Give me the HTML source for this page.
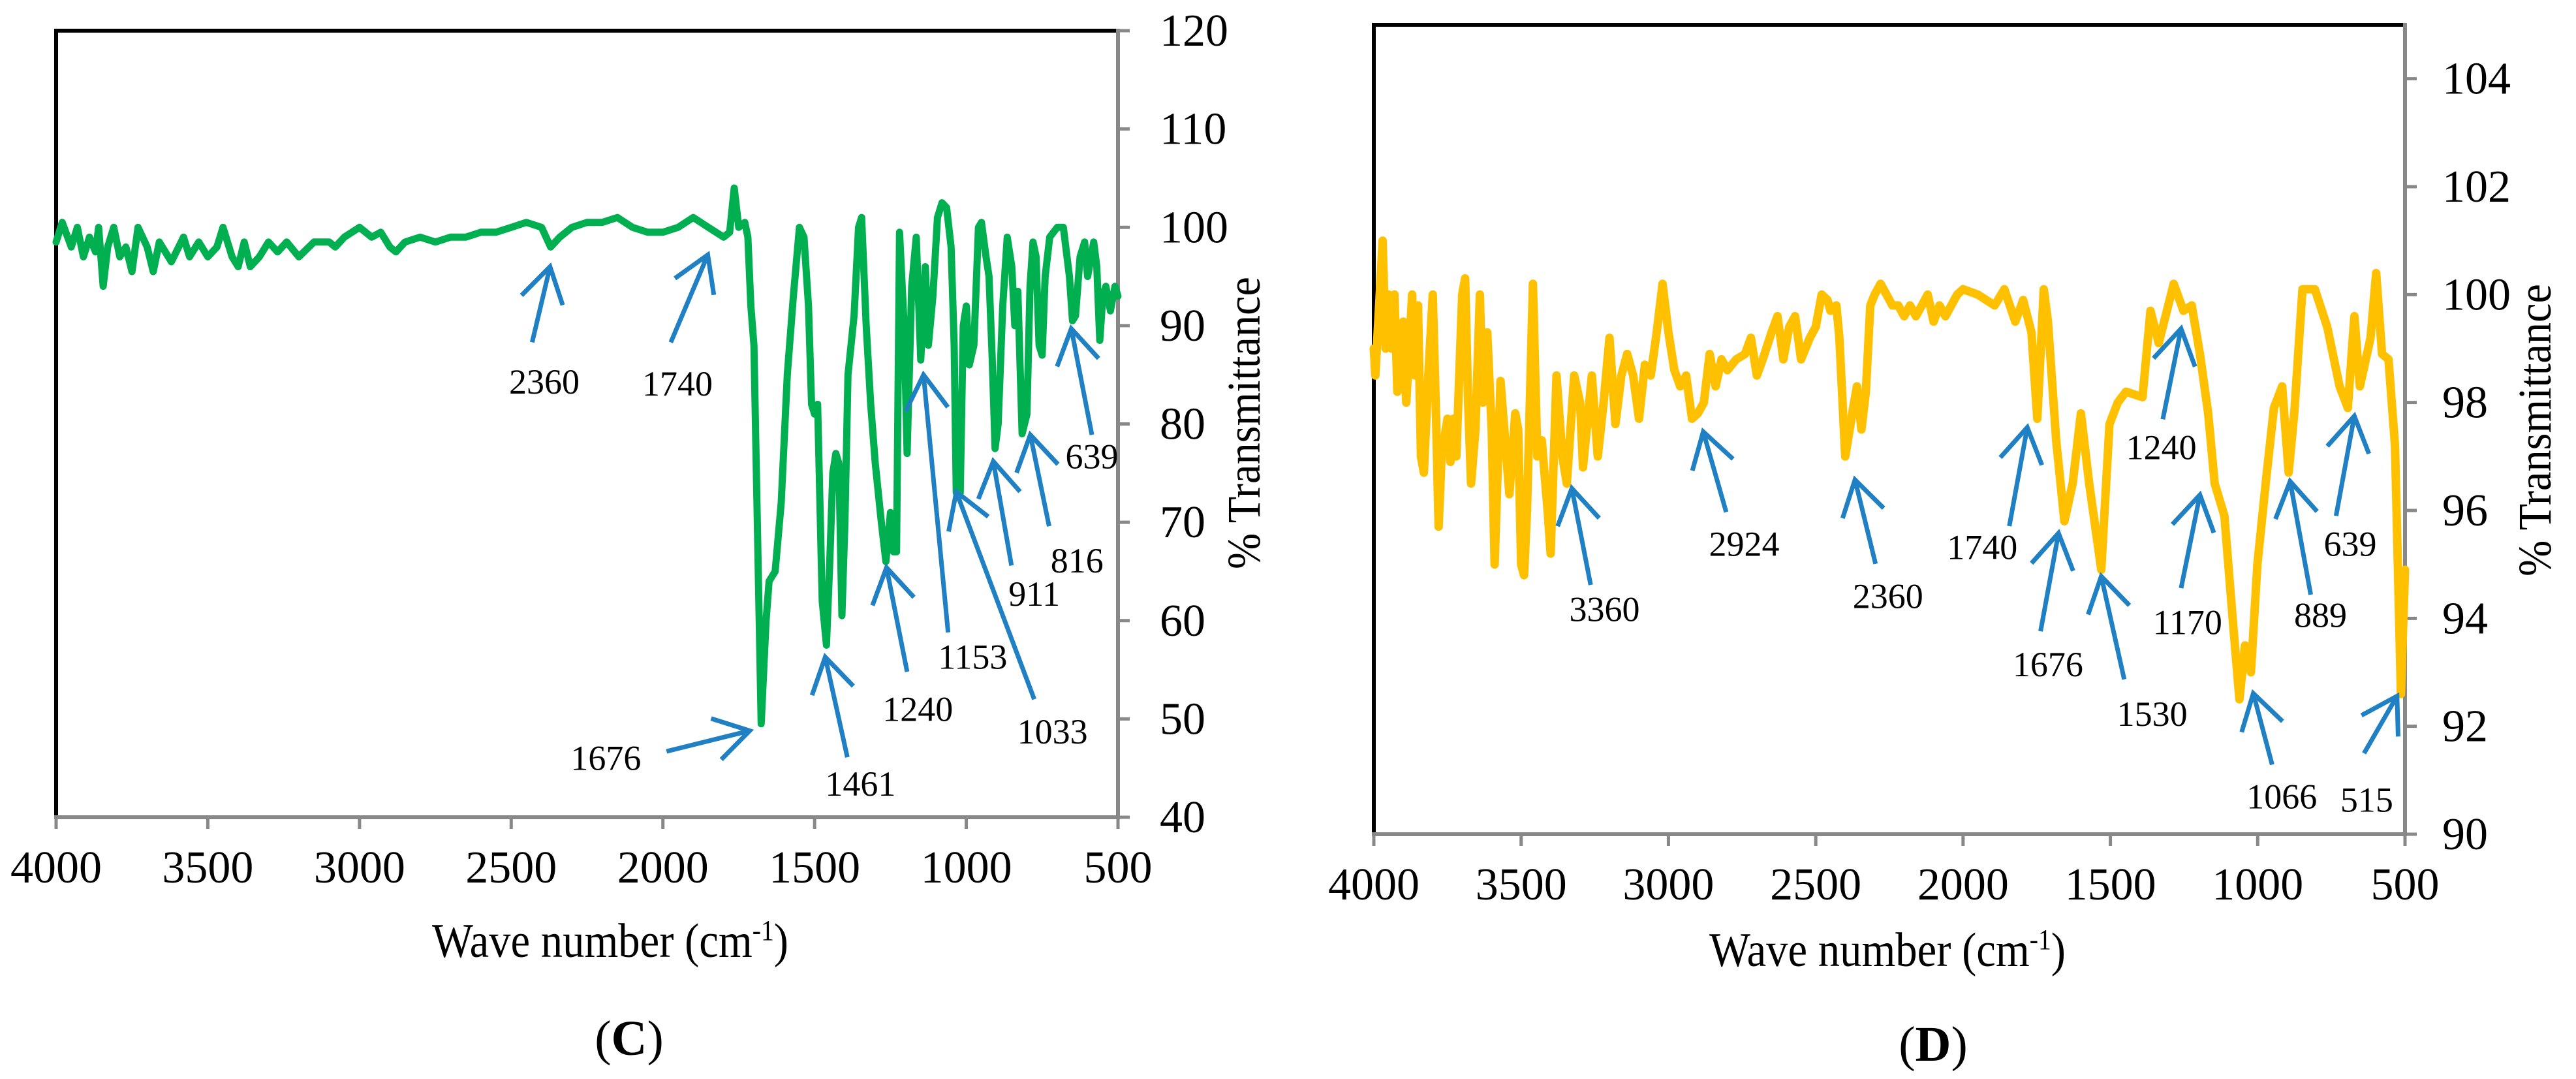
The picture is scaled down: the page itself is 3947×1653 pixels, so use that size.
<!DOCTYPE html>
<html><head><meta charset="utf-8"><style>
html,body{margin:0;padding:0;background:#fff;}
svg{display:block;}
svg text{font-family:"Liberation Serif","Times New Roman",serif;}
</style></head>
<body>
<svg id="fig" width="3947" height="1653" viewBox="0 0 3947 1653" xmlns="http://www.w3.org/2000/svg">
<rect width="3947" height="1653" fill="#fff"/>
<g id="chartC"></g>
<g id="chartD"></g>
</svg>
<script>
// ---- Chart C data ----
const cWave = [4000,3980,3950,3930,3910,3890,3870,3860,3845,3830,3810,3790,3770,3750,3730,3700,3680,3660,3640,3620,3580,3560,3530,3500,3470,3450,3420,3400,3380,3360,3330,3300,3270,3240,3200,3150,3100,3080,3050,3000,2960,2930,2900,2880,2850,2800,2750,2700,2650,2600,2550,2500,2450,2400,2370,2340,2300,2250,2200,2150,2100,2050,2000,1950,1900,1850,1800,1780,1765,1750,1730,1720,1710,1700,1690,1676,1660,1650,1630,1610,1590,1570,1550,1535,1520,1510,1500,1490,1475,1461,1450,1440,1430,1420,1410,1400,1390,1370,1355,1345,1330,1315,1300,1280,1265,1250,1240,1230,1220,1205,1195,1180,1165,1150,1135,1125,1110,1095,1080,1065,1050,1040,1033,1020,1010,1000,990,975,960,950,935,925,915,905,895,880,865,850,840,830,816,800,790,780,770,760,750,740,725,700,680,660,650,640,625,610,600,580,570,560,550,540,525,510,500];
const cTrans = [98.5,100.5,98,100,97,99,97.5,100,94,98,100,97,98,95.5,100,98,95.5,98.5,97.5,96.5,99,97,98.5,97,98,100,97,96,98.5,96,97,98.5,97.5,98.5,97,98.5,98.5,98,99,100,99,99.5,98,97.5,98.5,99,98.5,99,99,99.5,99.5,100,100.5,100,98,99,100,100.5,100.5,101,100,99.5,99.5,100,101,100,99,99.5,104,100,100.5,99,92,88,72,49.5,60,64,65,72,85,93,100,99,92,82,81,82,62,57.5,66,75,77,76,60.5,70,85,91,100,101,90,82,76,70,66,71,67,67,99.5,90,77,94,99,86.5,96,88,93,101,102.5,102,98,88,73,73,90,92,86,88,100,100.5,97,95,87,77.5,80,92,99,96,90,93.5,79,81,94,98.5,97,88,87,95,99,100,100,95,90.5,91,97,98.5,95,98.5,96,88.5,93,94,91.5,94,93];
const cXTicks = [4000,3500,3000,2500,2000,1500,1000,500];
const cYTicks = [40,50,60,70,80,90,100,110,120];
const cPeakLabels = ["2360","1740","1676","1461","1240","1153","1033","911","816","639"];
const cTipWave = [2372,1852,1714,1465,1263,1141,1033,911,789,654];
const cTipTrans = [96.0,97.2,48.8,56.3,65.4,85.0,73.1,76.2,78.9,89.7];
const cTailWave = [2431,1974,1988,1392,1195,1060,776,851,727,586];
const cTailTrans = [88.3,88.3,46.7,46.1,54.8,58.8,52.0,65.6,69.6,78.9];
const cLabelWave = [2391,1952,2188,1349,1160,979,716,776,635,586];
const cLabelTrans = [83.1,82.9,44.8,42.2,49.8,55.1,47.5,61.5,64.9,75.5];

// ---- Chart D data ----
const dWave = [4000,3995,3985,3970,3960,3950,3940,3930,3920,3900,3890,3870,3860,3850,3840,3830,3815,3800,3790,3780,3770,3750,3740,3730,3720,3700,3690,3680,3670,3655,3640,3630,3615,3600,3590,3570,3550,3540,3520,3510,3500,3490,3480,3460,3445,3430,3410,3400,3380,3360,3345,3320,3300,3290,3260,3240,3220,3200,3180,3160,3140,3120,3100,3080,3060,3040,3020,3000,2980,2960,2940,2920,2900,2880,2860,2840,2820,2800,2770,2740,2720,2700,2680,2650,2630,2610,2590,2570,2550,2520,2500,2480,2460,2450,2430,2420,2400,2385,2370,2360,2345,2330,2315,2300,2280,2260,2240,2220,2200,2180,2160,2140,2120,2100,2080,2060,2040,2020,2000,1950,1893,1860,1823,1796,1768,1748,1726,1712,1684,1656,1628,1600,1572,1531,1503,1475,1447,1391,1364,1336,1285,1252,1224,1196,1168,1146,1113,1085,1062,1043,1023,1001,973,945,917,895,876,848,806,764,722,694,672,653,617,598,578,556,534,514,500];
const dTrans = [99,98.5,99.5,101,99,100,99,100,98.2,99.5,98,100,98.5,99.8,97,96.7,98.5,100,98,95.7,97,97.7,96.9,97.7,97,100,100.3,98,96.5,97.5,100,98,99.3,97.5,95,98.4,97,96.3,97.8,97.5,95,94.8,96,100.2,97,97.3,96,95.2,98.5,97,96.5,98.5,98,96.8,98.5,97,98,99.2,97.6,98.5,98.9,98.5,97.7,98.7,98.5,99.3,100.2,99.3,98.6,98.3,98.5,97.7,97.8,98,98.9,98.3,98.8,98.6,98.8,98.9,99.2,98.5,98.8,99.3,99.6,98.8,99.4,99.6,98.8,99.2,99.4,100,99.9,99.7,99.8,99.2,97,97.5,98,98.3,97.5,98.2,99.8,100,100.2,100,99.8,99.8,99.6,99.8,99.6,99.8,100,99.5,99.8,99.6,99.8,100,100.1,100,99.8,100.1,99.5,99.9,99.3,97.7,100.1,99.5,97.3,95.8,96.5,97.8,96.5,94.9,97.6,98,98.2,98.1,99.7,99.1,100.2,99.7,99.8,98.9,97.8,96.5,95.9,94,92.5,93.5,93,95,96.5,97.9,98.3,96.7,97.8,100.1,100.1,99.4,98.3,97.9,99.6,98.3,99.2,100.4,98.9,98.8,97.2,92.6,94.9];
const dXTicks = [4000,3500,3000,2500,2000,1500,1000,500];
const dYTicks = [90,92,94,96,98,100,102,104];
const dPeakLabels = ["3360","2924","2360","1740","1676","1530","1240","1170","1066","889","639","515"];
const dTipWave = [3328,2882,2367,1782,1676,1531,1260,1196,1015,890,672,527];
const dTipTrans = [96.41,97.46,96.57,97.54,95.58,94.78,99.37,96.29,92.61,96.54,97.75,92.56];
const dTailWave = [3264,2804,2297,1843,1737,1453,1322,1260,951,820,734,639];
const dTailTrans = [94.62,95.97,95.01,95.71,93.76,92.87,97.69,94.56,91.29,94.44,95.90,91.50];
const dLabelWave = [3217,2743,2255,1935,1712,1358,1327,1238,918,787,686,630];
const dLabelTrans = [93.95,95.16,94.19,95.10,92.93,92.01,96.95,93.71,90.48,93.84,95.16,90.42];

const NS = "http://www.w3.org/2000/svg";
const FONT = '"Liberation Serif", "Times New Roman", serif';
function mk(parent, tag, attrs, text) {
  const e = document.createElementNS(NS, tag);
  for (const k in attrs) e.setAttribute(k, attrs[k]);
  if (tag === 'text') e.setAttribute('font-family', FONT);
  if (text !== undefined) e.textContent = text;
  parent.appendChild(e);
  return e;
}

function drawChart(g, cfg, wave, trans, xTicks, yTicks, labels, tipW, tipT, tailW, tailT, labW, labT) {
  const L = cfg.left, R = cfg.right, T = cfg.top, B = cfg.bottom;
  const sx = w => L + (4000 - w) / 3500 * (R - L);
  const sy = v => B - (v - cfg.ymin) / (cfg.ymax - cfg.ymin) * (B - T);

  const fr = mk(g, 'path', {d: `M${L},${B} L${L},${T} L${R},${T}`, fill: 'none', stroke: '#000', 'stroke-width': 6});
  
  
  const xa = mk(g, 'line', {x1: L - 3, y1: B, x2: R, y2: B, stroke: '#888', 'stroke-width': 6});
  
  
  const ya = mk(g, 'line', {x1: R, y1: T - 3, x2: R, y2: B + 3, stroke: '#888', 'stroke-width': 6});
  
  

  xTicks.forEach(t => {
    const x = sx(t);
    const tk = mk(g, 'line', {x1: x, y1: B, x2: x, y2: B + 18, stroke: '#888', 'stroke-width': 5});
    
    
    const tl = mk(g, 'text', {x: x, y: cfg.xLabelBase, 'text-anchor': 'middle', 'font-size': 70, fill: '#000'}, String(t));
    
    
  });
  yTicks.forEach(t => {
    const y = sy(t);
    const tk = mk(g, 'line', {x1: R, y1: y, x2: R + 18, y2: y, stroke: '#888', 'stroke-width': 5});
    
    
    const tl = mk(g, 'text', {x: cfg.yLabelX, y: y + 23, 'text-anchor': 'start', 'font-size': 70, fill: '#000'}, String(t));
    
    
  });

  let d = '';
  wave.forEach((w, i) => { d += (i ? 'L' : 'M') + sx(w).toFixed(1) + ',' + sy(trans[i]).toFixed(1); });
  const sp = mk(g, 'path', {d: d, fill: 'none', stroke: cfg.color, 'stroke-width': cfg.lw, 'stroke-linejoin': 'round', 'stroke-linecap': 'round'});
  
  

  labels.forEach((lab, i) => {
    const tx = sx(tipW[i]), ty = sy(tipT[i]);
    const ax = sx(tailW[i]), ay = sy(tailT[i]);
    const ang = Math.atan2(ay - ty, ax - tx);
    const hl = 62, sp2 = 0.55;
    const h1x = tx + hl * Math.cos(ang + sp2), h1y = ty + hl * Math.sin(ang + sp2);
    const h2x = tx + hl * Math.cos(ang - sp2), h2y = ty + hl * Math.sin(ang - sp2);
    const ar = mk(g, 'path', {d: `M${ax},${ay} L${tx},${ty} M${h1x},${h1y} L${tx},${ty} L${h2x},${h2y}`, fill: 'none', stroke: '#1f80c4', 'stroke-width': 7});
    
    
    const tl = mk(g, 'text', {x: sx(labW[i]), y: sy(labT[i]), 'text-anchor': 'middle', 'font-size': 54, fill: '#000'}, lab);
    
    
  });

  const xt = mk(g, 'text', {x: cfg.xTitleX, y: cfg.xTitleY, 'text-anchor': 'middle', 'font-size': 74, fill: '#000', textLength: 546, lengthAdjust: 'spacingAndGlyphs'});
  
  
  xt.appendChild(document.createTextNode('Wave number (cm'));
  mk(xt, 'tspan', {'font-size': 44, dy: -26}, '-1');
  mk(xt, 'tspan', {dy: 26}, ')');
  const yt = mk(g, 'text', {x: 0, y: 0, transform: `translate(${cfg.yTitleX},${cfg.yTitleY}) rotate(-90)`, 'text-anchor': 'middle', 'font-size': 72, fill: '#000', textLength: 448, lengthAdjust: 'spacingAndGlyphs'}, '% Transmittance');
  
  
  const pt = mk(g, 'text', {x: cfg.panelX, y: cfg.panelY, 'text-anchor': 'middle', 'font-size': 76, fill: '#000'});
  
  
  pt.appendChild(document.createTextNode('('));
  mk(pt, 'tspan', {'font-weight': 'bold'}, cfg.panel);
  pt.appendChild(document.createTextNode(')'));
}

drawChart(document.getElementById('chartC'),
  {left: 86, right: 1713, top: 47, bottom: 1252, ymin: 40, ymax: 120, color: '#00b050', lw: 11,
   xLabelBase: 1352, yLabelX: 1777, xTitleX: 935, xTitleY: 1466, yTitleX: 1930, yTitleY: 648,
   panel: 'C', panelX: 964, panelY: 1616},
  cWave, cTrans, cXTicks, cYTicks, cPeakLabels, cTipWave, cTipTrans, cTailWave, cTailTrans, cLabelWave, cLabelTrans);

drawChart(document.getElementById('chartD'),
  {left: 2105, right: 3685, top: 38, bottom: 1278, ymin: 90, ymax: 105, color: '#ffc000', lw: 13,
   xLabelBase: 1378, yLabelX: 3742, xTitleX: 2892, xTitleY: 1480, yTitleX: 3908, yTitleY: 659,
   panel: 'D', panelX: 2962, panelY: 1625},
  dWave, dTrans, dXTicks, dYTicks, dPeakLabels, dTipWave, dTipTrans, dTailWave, dTailTrans, dLabelWave, dLabelTrans);
</script>
</body></html>
